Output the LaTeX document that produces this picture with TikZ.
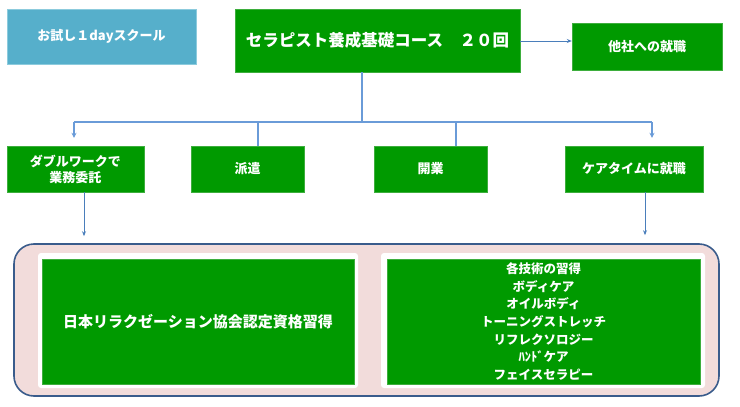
\documentclass[tikz,border=0pt]{standalone}
\usepackage{fontspec}
\usetikzlibrary{positioning, calc, arrows.meta}
\newfontfamily\jpfont{Noto Sans CJK JP}
\definecolor{Leaf}{HTML}{009A00}
\definecolor{LeafEdge}{HTML}{3DAE3D}
\definecolor{Sky}{HTML}{56AFCB}
\definecolor{SkyEdge}{HTML}{8CCBDD}
\definecolor{Wire}{HTML}{6A9BD8}
\definecolor{WireDark}{HTML}{4A7EBB}
\definecolor{Blush}{HTML}{F2DCDB}
\definecolor{Frame}{HTML}{3A5C8C}
\definecolor{White}{HTML}{FFFFFF}
\tikzset{
    greenbox/.style={rectangle, fill=Leaf, draw=LeafEdge, text=White, align=center, inner sep=0pt,
        font=\jpfont\bfseries\fontsize{13}{16}\selectfont},
    skybox/.style={rectangle, fill=Sky, draw=SkyEdge, text=White, align=center, inner sep=0pt,
        font=\jpfont\bfseries\fontsize{13}{16}\selectfont},
    panel/.style={rectangle, rounded corners=3pt, fill=White, inner sep=0pt},
    bus/.style={draw=Wire, line width=1.6pt},
    thinarrow/.style={-{Stealth[length=5pt,width=4pt]}, draw=WireDark, line width=0.8pt},
}

\begin{document}
\begin{tikzpicture}[x=1pt, y=-1pt]
    \useasboundingbox (0,0) rectangle (740,407);

    % Top row
    \node[skybox, minimum width=189pt, minimum height=55pt] (trial) at (101.5,36.5) {お試し１dayスクール};
    \node[greenbox, minimum width=285pt, minimum height=63pt,
          font=\jpfont\bfseries\fontsize{16.5}{20}\selectfont] (course) at (377.5,40.5) {セラピスト養成基礎コース　２０回};
    \node[greenbox, minimum width=150pt, minimum height=47pt] (other) at (647,46.5) {他社への就職};

    % Second row
    \node[greenbox, minimum width=137pt, minimum height=46pt] (double) at (75.5,169) {ダブルワークで\\業務委託};
    \node[greenbox, minimum width=113pt, minimum height=46pt] (dispatch) at (247.5,169) {派遣};
    \node[greenbox, minimum width=113pt, minimum height=46pt] (open) at (430.5,169) {開業};
    \node[greenbox, minimum width=138pt, minimum height=46pt] (caretime) at (634,169) {ケアタイムに就職};

    % Bottom frame
    \node[rectangle, rounded corners=20pt, fill=Blush, draw=Frame, line width=1.6pt,
          minimum width=705pt, minimum height=152pt] (frame) at (366.5,320) {};
    \node[panel, minimum width=320pt, minimum height=135pt] (leftpanel) at (198,320.5) {};
    \node[panel, minimum width=324pt, minimum height=135pt] (rightpanel) at (543,320.5) {};
    \node[greenbox, minimum width=312pt, minimum height=125pt,
          font=\jpfont\bfseries\fontsize{15}{18}\selectfont] (license) at (198,321.5) {日本リラクゼーション協会認定資格習得};
    \node[greenbox, minimum width=313pt, minimum height=125pt,
          font=\jpfont\bfseries\fontsize{12.5}{17.6}\selectfont] (skills) at (543.5,321.5)
          {各技術の習得\\ボディケア\\オイルボディ\\トーニングストレッチ\\リフレクソロジー\\ﾊﾝﾄﾞケア\\フェイスセラピー};

    % Connectors
    \coordinate (hub) at (362,122);
    \coordinate (busL) at (74,122);
    \coordinate (busR) at (652,122);
    \coordinate (tapB) at (258,122);
    \coordinate (tapC) at (456,122);
    \draw[thinarrow] (course.east |- 0,41) -- (other.west |- 0,41);
    \draw[bus] (course.south -| hub) -- (hub);
    \draw[bus] (busL) -- (busR);
    \draw[bus, -{Stealth[length=5pt,width=5pt]}, shorten >=8pt] (busL) -- (busL |- double.north);
    \draw[bus] (tapB) -- (tapB |- dispatch.north);
    \draw[bus] (tapC) -- (tapC |- open.north);
    \draw[bus, -{Stealth[length=5pt,width=5pt]}, shorten >=8pt] (busR) -- (busR |- caretime.north);
    \draw[thinarrow, shorten >=7pt] (double.south -| 84,0) -- (frame.north -| 84,0);
    \draw[thinarrow, shorten >=8pt] (caretime.south -| 645,0) -- (frame.north -| 645,0);
\end{tikzpicture}
\end{document}
